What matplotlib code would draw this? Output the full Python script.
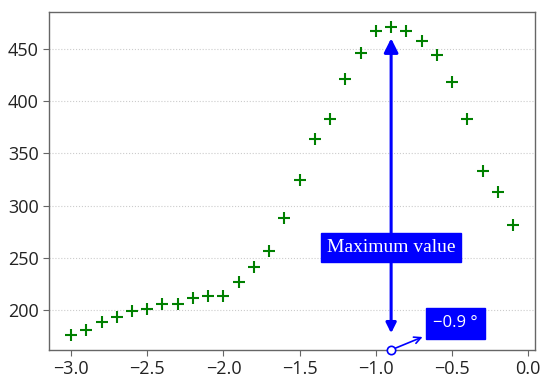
import matplotlib
matplotlib.use('Agg')
import matplotlib.pyplot as plt
import numpy as np

x = [-3.0, -2.9, -2.8, -2.7, -2.6, -2.5, -2.4, -2.3, -2.2, -2.1,
     -2.0, -1.9, -1.8, -1.7, -1.6, -1.5, -1.4, -1.3, -1.2, -1.1,
     -1.0, -0.9, -0.8, -0.7, -0.6, -0.5, -0.4, -0.3, -0.2, -0.1]
y = [176.8, 181.5, 188.8, 193.3, 199.0, 201.3, 206.0, 206.4, 211.8, 213.4,
     213.4, 227.0, 241.4, 257.1, 288.5, 324.9, 364.0, 383.0, 421.5, 446.0,
     467.4, 470.6, 467.4, 457.8, 444.4, 418.3, 383.3, 333.6, 313.1, 281.9]
max_label = 'Maximum value'
x_label = '\u22120.9 \u00b0'

plt.rcParams['font.family'] = ['Open Sans', 'DejaVu Sans']

fig, ax = plt.subplots(figsize=(5.5, 3.82), dpi=100)
ax.plot(x, y, '+', color='green', markersize=9, markeredgewidth=1.5)

ax.grid(axis='y', color='#cccccc', linestyle=':', linewidth=0.8)
ax.set_axisbelow(True)
for s in ax.spines.values():
    s.set_color('#666666')
    s.set_linewidth(1.0)
ax.tick_params(colors='#666666', labelcolor='#222222', labelsize=13, length=4)
ax.set_yticks([200, 250, 300, 350, 400, 450])
ax.set_xticks([-3.0, -2.5, -2.0, -1.5, -1.0, -0.5, 0.0])

ymin, ymax = ax.get_ylim()
imax = int(np.argmax(y))
xm, ym = x[imax], y[imax]

box = dict(boxstyle='square,pad=0.3', fc='blue', ec='blue')
arrow = dict(arrowstyle='-|>,head_width=0.3,head_length=0.6', color='blue', lw=2.2)
t = ax.annotate(max_label, xy=(xm, ym), xytext=(xm, 260),
                ha='center', va='center', color='white', fontsize=14,
                family=['Liberation Serif'], bbox=box,
                arrowprops=dict(arrow, shrinkA=0, shrinkB=8))
ax.annotate('', xy=(xm, ymin), xytext=(xm, 260),
            arrowprops=dict(arrow, shrinkA=0, shrinkB=12,
                            patchA=t.get_bbox_patch()))

ax.annotate(x_label, xy=(xm, ymin), xytext=(-0.478, 187.4),
            ha='center', va='center', color='white', fontsize=12,
            bbox=dict(boxstyle='square,pad=0.45', fc='blue', ec='blue'),
            arrowprops=dict(arrowstyle='<-', color='blue', lw=1.2,
                            shrinkA=2, shrinkB=3))
ax.plot([xm], [ymin], 'o', mfc='white', mec='blue', markersize=6,
        mew=1.2, clip_on=False, zorder=5)
ax.set_ylim(ymin, ymax)

plt.subplots_adjust(left=0.089, right=0.973, top=0.969, bottom=0.084)
fig.savefig('out.png', dpi=100)
